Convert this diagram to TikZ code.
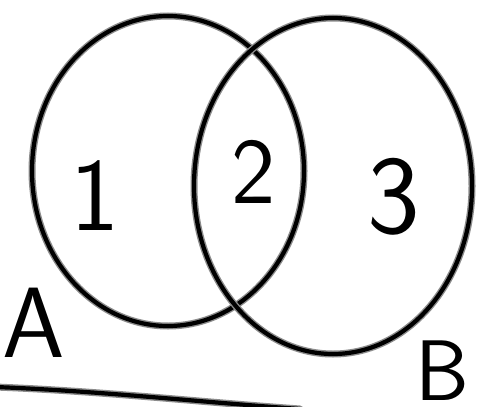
\documentclass[tikz,border=0pt]{standalone}
\usetikzlibrary{shapes.geometric}
\tikzset{
  ink/.style={draw=black, line width=4.2pt, line cap=round, line join=round,
    preaction={draw=black!45, line width=7pt, line cap=round}},
  setring/.style={ellipse, ink, inner sep=0pt},
  lbl/.style={anchor=base, inner sep=0pt, text=black},
}
\begin{document}
\begin{tikzpicture}[x=1pt,y=-1pt]
\useasboundingbox (0,0) rectangle (478,406);
\fill[white] (0,0) rectangle (478,406);
\node[setring, minimum width=272pt, minimum height=310pt] (setA) at (168,171) {};
\node[setring, minimum width=278pt, minimum height=336pt] (setB) at (333,186) {};
\node[lbl, font=\fontsize{104}{104}\sffamily] (one) at (95,230) {1};
\node[lbl, font=\fontsize{94}{94}\sffamily] (two) at (254,203) {2};
\node[lbl, font=\fontsize{112}{112}\sffamily] (three) at (394,233) {3};
\node[lbl, font=\fontsize{100}{100}\sffamily] (labA) at (34,357) {A};
\node[lbl, font=\fontsize{86}{86}\sffamily] (labB) at (442,400) {B};
\coordinate (lineL) at (-5,387);
\coordinate (lineR) at (300,409);
\draw[ink] (lineL) .. controls (100,391) and (200,402) .. (lineR);
\end{tikzpicture}
\end{document}
